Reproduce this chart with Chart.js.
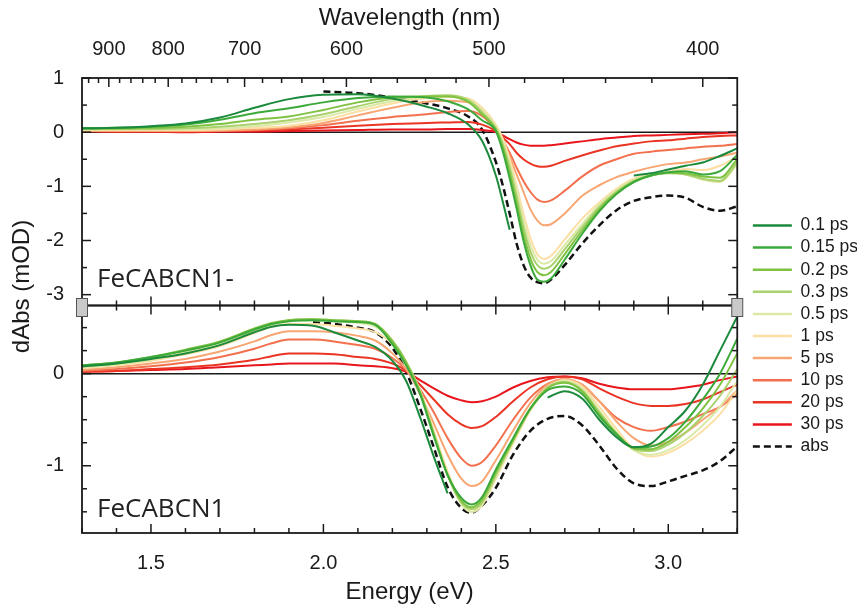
<!DOCTYPE html>
<html><head><meta charset="utf-8">
<script src="https://cdn.jsdelivr.net/npm/chart.js@4.4.1/dist/chart.umd.min.js"></script>
<style>html,body{margin:0;padding:0;background:#fff;}canvas{display:block;}</style>
</head><body>
<canvas id="c" width="857" height="604"></canvas>
<script>
// ---------- data ----------
const TOP_ENERGY = [1.30,1.40,1.50,1.60,1.70,1.80,1.90,2.00,2.10,2.20,2.30,2.36,2.42,2.46,2.50,2.52,2.54,2.56,2.58,2.60,2.62,2.64,2.66,2.70,2.75,2.80,2.85,2.90,2.95,3.00,3.05,3.10,3.15,3.20];
const TOP_0_1PS  = [0.07,0.08,0.11,0.16,0.27,0.45,0.61,0.69,0.70,0.62,0.47,0.35,0.14,-0.16,-0.80,-1.28,-1.80,null,null,null,null,null,null,null,null,null,null,-0.80,-0.76,-0.69,-0.62,-0.56,-0.44,-0.30];
const TOP_0_15PS = [0.07,0.08,0.10,0.14,0.23,0.35,0.44,0.55,0.63,0.66,0.64,0.57,0.42,0.22,0.02,-0.35,-0.85,-1.40,-2.00,-2.45,-2.72,-2.76,-2.70,-2.35,-1.88,-1.46,-1.14,-0.92,-0.80,-0.74,-0.72,-0.78,-0.72,-0.42];
const TOP_0_2PS  = [0.07,0.07,0.08,0.10,0.15,0.23,0.29,0.41,0.55,0.64,0.66,0.66,0.56,0.33,0.05,-0.28,-0.75,-1.30,-1.88,-2.33,-2.58,-2.64,-2.58,-2.25,-1.82,-1.42,-1.12,-0.92,-0.80,-0.75,-0.76,-0.82,-0.84,-0.50];
const TOP_0_3PS  = [0.06,0.06,0.06,0.07,0.10,0.15,0.22,0.33,0.48,0.61,0.67,0.68,0.59,0.37,0.07,-0.22,-0.65,-1.18,-1.75,-2.20,-2.45,-2.52,-2.47,-2.16,-1.76,-1.38,-1.10,-0.90,-0.80,-0.76,-0.78,-0.86,-0.90,-0.56];
const TOP_0_5PS  = [0.05,0.05,0.05,0.05,0.07,0.11,0.18,0.28,0.43,0.57,0.65,0.67,0.61,0.41,0.10,-0.18,-0.58,-1.08,-1.62,-2.08,-2.35,-2.43,-2.38,-2.08,-1.70,-1.34,-1.07,-0.88,-0.78,-0.75,-0.78,-0.88,-0.92,-0.60];
const TOP_1PS    = [0.04,0.04,0.04,0.04,0.05,0.08,0.12,0.22,0.38,0.53,0.63,0.65,0.62,0.45,0.14,-0.12,-0.50,-0.98,-1.50,-1.95,-2.25,-2.34,-2.28,-1.98,-1.60,-1.30,-1.04,-0.86,-0.78,-0.73,-0.68,-0.70,-0.62,-0.45];
const TOP_5PS    = [0.02,0.02,0.02,0.02,0.03,0.05,0.09,0.17,0.31,0.45,0.56,0.58,0.55,0.38,0.05,-0.18,-0.45,-0.78,-1.10,-1.42,-1.63,-1.72,-1.70,-1.50,-1.18,-0.98,-0.83,-0.73,-0.65,-0.59,-0.56,-0.50,-0.45,-0.38];
const TOP_10PS   = [0.02,0.02,0.02,0.02,0.02,0.04,0.07,0.13,0.21,0.28,0.33,0.37,0.39,0.30,0.05,-0.15,-0.38,-0.65,-0.90,-1.10,-1.24,-1.29,-1.26,-1.08,-0.82,-0.62,-0.50,-0.40,-0.36,-0.33,-0.30,-0.27,-0.25,-0.22];
const TOP_20PS   = [0.02,0.01,0.01,0.01,0.02,0.03,0.05,0.08,0.12,0.15,0.17,0.18,0.19,0.14,0.02,-0.10,-0.22,-0.38,-0.50,-0.58,-0.63,-0.64,-0.62,-0.53,-0.43,-0.34,-0.26,-0.21,-0.17,-0.15,-0.12,-0.09,-0.07,-0.06];
const TOP_30PS   = [0.02,0.01,0.01,0.00,0.01,0.01,0.02,0.03,0.04,0.05,0.05,0.06,0.06,0.04,0.00,-0.06,-0.13,-0.19,-0.23,-0.25,-0.25,-0.25,-0.24,-0.21,-0.17,-0.13,-0.10,-0.07,-0.06,-0.05,-0.04,-0.03,-0.02,0.00];
const TOP_ABS    = [null,null,null,null,null,null,null,0.75,0.72,0.64,0.53,0.44,0.29,0.05,-0.55,-0.98,-1.50,-2.05,-2.45,-2.68,-2.77,-2.79,-2.72,-2.45,-2.06,-1.72,-1.44,-1.27,-1.20,-1.17,-1.21,-1.38,-1.45,-1.37];

const BOTTOM_ENERGY = [1.30,1.40,1.50,1.60,1.70,1.80,1.85,1.90,1.97,2.03,2.10,2.15,2.20,2.24,2.28,2.32,2.36,2.40,2.43,2.46,2.50,2.55,2.60,2.65,2.70,2.75,2.80,2.85,2.90,2.95,3.00,3.05,3.10,3.15,3.20];
const BOT_0_1PS  = [0.08,0.11,0.16,0.22,0.31,0.45,0.51,0.53,0.52,0.45,0.36,0.29,0.14,-0.08,-0.47,-0.90,-1.30,null,null,null,null,null,null,-0.26,-0.19,-0.27,-0.50,-0.69,-0.80,-0.76,-0.58,-0.40,-0.12,0.25,0.62];
const BOT_0_15PS = [0.09,0.12,0.18,0.25,0.34,0.48,0.54,0.57,0.58,0.57,0.56,0.53,0.32,0.09,-0.22,-0.68,-1.10,-1.35,-1.42,-1.34,-1.04,-0.70,-0.38,-0.18,-0.14,-0.22,-0.46,-0.66,-0.80,-0.79,-0.70,-0.52,-0.28,0.00,0.38];
const BOT_0_2PS  = [0.09,0.12,0.18,0.26,0.35,0.49,0.55,0.58,0.59,0.58,0.57,0.54,0.35,0.12,-0.20,-0.66,-1.10,-1.38,-1.45,-1.37,-1.07,-0.72,-0.38,-0.16,-0.10,-0.19,-0.44,-0.65,-0.81,-0.82,-0.74,-0.58,-0.38,-0.12,0.22];
const BOT_0_3PS  = [0.08,0.11,0.17,0.25,0.34,0.48,0.54,0.58,0.59,0.58,0.57,0.54,0.36,0.13,-0.19,-0.65,-1.10,-1.40,-1.47,-1.40,-1.10,-0.73,-0.38,-0.15,-0.09,-0.18,-0.42,-0.65,-0.82,-0.84,-0.77,-0.64,-0.46,-0.24,0.05];
const BOT_0_5PS  = [0.07,0.10,0.15,0.23,0.32,0.46,0.53,0.57,0.58,0.57,0.55,0.51,0.35,0.13,-0.19,-0.64,-1.10,-1.42,-1.50,-1.42,-1.12,-0.74,-0.38,-0.15,-0.08,-0.16,-0.40,-0.64,-0.83,-0.88,-0.83,-0.72,-0.56,-0.36,-0.08];
const BOT_1PS    = [0.06,0.09,0.14,0.21,0.30,0.44,0.51,0.54,0.54,0.52,0.49,0.45,0.32,0.12,-0.18,-0.62,-1.06,-1.40,-1.50,-1.43,-1.14,-0.76,-0.40,-0.16,-0.07,-0.14,-0.36,-0.60,-0.82,-0.90,-0.86,-0.76,-0.62,-0.44,-0.18];
const BOT_5PS    = [0.04,0.07,0.11,0.16,0.24,0.35,0.42,0.46,0.46,0.45,0.41,0.36,0.22,0.05,-0.22,-0.54,-0.88,-1.14,-1.22,-1.17,-0.94,-0.62,-0.32,-0.12,-0.06,-0.12,-0.30,-0.52,-0.70,-0.78,-0.74,-0.64,-0.50,-0.36,-0.18];
const BOT_10PS   = [0.03,0.05,0.08,0.12,0.18,0.27,0.33,0.37,0.37,0.35,0.31,0.27,0.17,0.04,-0.17,-0.42,-0.70,-0.92,-1.00,-0.96,-0.78,-0.50,-0.26,-0.11,-0.06,-0.12,-0.30,-0.48,-0.58,-0.62,-0.58,-0.52,-0.44,-0.36,-0.22];
const BOT_20PS   = [0.02,0.03,0.05,0.07,0.10,0.15,0.19,0.22,0.22,0.21,0.18,0.16,0.11,0.03,-0.12,-0.28,-0.44,-0.55,-0.59,-0.57,-0.47,-0.30,-0.15,-0.06,-0.03,-0.06,-0.16,-0.25,-0.32,-0.35,-0.35,-0.33,-0.28,-0.20,-0.12];
const BOT_30PS   = [0.02,0.03,0.04,0.05,0.07,0.09,0.10,0.11,0.11,0.11,0.09,0.08,0.06,0.02,-0.07,-0.16,-0.24,-0.29,-0.31,-0.30,-0.25,-0.15,-0.08,-0.04,-0.03,-0.05,-0.11,-0.15,-0.17,-0.17,-0.17,-0.15,-0.12,-0.07,-0.03];
const BOT_ABS    = [null,null,null,null,null,null,null,null,0.56,0.54,0.50,0.45,0.28,0.02,-0.37,-0.80,-1.23,-1.46,-1.51,-1.43,-1.24,-0.88,-0.62,-0.49,-0.46,-0.56,-0.78,-1.03,-1.19,-1.22,-1.17,-1.11,-1.05,-0.95,-0.79];

const SERIES_LABELS = ['0.1 ps','0.15 ps','0.2 ps','0.3 ps','0.5 ps','1 ps','5 ps','10 ps','20 ps','30 ps','abs'];
const TOP_SERIES = [TOP_0_1PS,TOP_0_15PS,TOP_0_2PS,TOP_0_3PS,TOP_0_5PS,TOP_1PS,TOP_5PS,TOP_10PS,TOP_20PS,TOP_30PS,TOP_ABS];
const BOTTOM_SERIES = [BOT_0_1PS,BOT_0_15PS,BOT_0_2PS,BOT_0_3PS,BOT_0_5PS,BOT_1PS,BOT_5PS,BOT_10PS,BOT_20PS,BOT_30PS,BOT_ABS];
const PANEL_NAMES = ['FeCABCN1-','FeCABCN1'];

const ENERGY_TICK_LABELS = [1.5, 2.0, 2.5, 3.0];
const WAVELENGTH_TICK_LABELS = [900, 800, 700, 600, 500, 400];
const TOP_Y_TICK_LABELS = [1, 0, -1, -2, -3];
const BOTTOM_Y_TICK_LABELS = [0, -1];

// ---------- styles ----------
const SERIES_COLORS = ['#1b8a3c','#3caa3a','#7fc241','#a9d26e','#dce9a6','#fbdfa4','#f7a673','#f2704e','#ea3424','#e8161c','#111111'];
const FONT = "'Liberation Sans', Arial, sans-serif";
const INK = '#1a1a1a';

// ---------- tick position helpers ----------
function range(a, b, step) { const out = []; const n = Math.round((b - a) / step); for (let i = 0; i <= n; i++) out.push(Math.round((a + i * step) * 1000) / 1000); return out; }
const ENERGY_TICKS = range(1.3, 3.2, 0.1);
const WAVELENGTH_TICKS = range(400, 940, 20).map(nm => 1240 / nm);
const TOP_Y_TICKS = range(-3, 1, 0.5);
const BOTTOM_Y_TICKS = range(-1.5, 0.5, 0.25);
const near = (arr, v) => arr.some(t => Math.abs(t - v) < 1e-6);

function makeSets(energy, series, axisId) {
  return series.map((vals, i) => ({
    label: SERIES_LABELS[i],
    data: energy.map((e, k) => ({ x: e, y: vals[k] })),
    yAxisID: axisId,
    borderColor: SERIES_COLORS[i],
    backgroundColor: SERIES_COLORS[i],
    borderWidth: i === 10 ? 2.5 : 2,
    borderDash: i === 10 ? [7, 4] : [],
    pointRadius: 0,
    cubicInterpolationMode: 'monotone',
    spanGaps: false
  }));
}
const datasets = makeSets(TOP_ENERGY, TOP_SERIES, 'yTop').concat(makeSets(BOTTOM_ENERGY, BOTTOM_SERIES, 'yBot'));

const decor = {
  id: 'decor',
  afterLayout(chart) {
    const lg = chart.legend;
    if (lg) { lg.left += 11; lg.right += 11; lg.top += 34; lg.bottom += 34; }
  },
  beforeDatasetsDraw(chart) {
    const { ctx, chartArea: a, scales } = chart;
    ctx.save();
    ctx.strokeStyle = INK; ctx.lineWidth = 1.5;
    for (const id of ['yTop', 'yBot']) {
      const y = scales[id].getPixelForValue(0);
      ctx.beginPath(); ctx.moveTo(a.left, y); ctx.lineTo(a.right, y); ctx.stroke();
    }
    ctx.restore();
  },
  afterDatasetsDraw(chart) {
    const { ctx, chartArea: a, scales } = chart;
    const yT = scales.yTop, yB = scales.yBot, x = scales.x, x2 = scales.x2;
    ctx.save();
    ctx.strokeStyle = INK; ctx.lineWidth = 1.8;
    ctx.strokeRect(a.left, yT.top, a.right - a.left, yT.bottom - yT.top);
    ctx.strokeRect(a.left, yB.top, a.right - a.left, yB.bottom - yB.top);
    ctx.lineWidth = 1.5;
    const seg = (x0, y0, x1, y1) => { ctx.beginPath(); ctx.moveTo(x0, y0); ctx.lineTo(x1, y1); ctx.stroke(); };
    for (const s of [yT, yB]) {
      for (const t of s.ticks) {
        const py = s.getPixelForValue(t.value);
        const len = t.label !== '' ? 9 : 5;
        seg(a.left, py, a.left + len, py);
        seg(a.right, py, a.right - len, py);
      }
    }
    for (const t of x.ticks) {
      const px = x.getPixelForValue(t.value);
      const len = t.label !== '' ? 9 : 5;
      seg(px, yB.bottom, px, yB.bottom - len);
      seg(px, yT.bottom - len, px, yB.top + len);
    }
    for (const t of x2.ticks) {
      const px = x2.getPixelForValue(t.value);
      const len = t.label !== '' ? 9 : 5;
      seg(px, yT.top, px, yT.top + len);
    }
    // axis-break markers
    ctx.fillStyle = '#c9c9c9'; ctx.strokeStyle = '#555'; ctx.lineWidth = 1;
    for (const px of [a.left, a.right]) {
      ctx.fillRect(px - 5.5, yT.bottom - 7, 11, 18);
      ctx.strokeRect(px - 5.5, yT.bottom - 7, 11, 18);
    }
    // panel names
    ctx.fillStyle = '#222';
    ctx.font = "26px 'Open Sans', 'Noto Sans', sans-serif";
    ctx.textAlign = 'left'; ctx.textBaseline = 'alphabetic';
    ctx.fillText(PANEL_NAMES[0], a.left + 15, yT.bottom - 19);
    ctx.fillText(PANEL_NAMES[1], a.left + 15, yB.bottom - 16);
    // y title
    ctx.fillStyle = INK;
    ctx.font = '24px ' + FONT;
    ctx.translate(22, (a.top + a.bottom) / 2 - 19);
    ctx.rotate(-Math.PI / 2);
    ctx.textAlign = 'center'; ctx.textBaseline = 'middle';
    ctx.fillText('dAbs (mOD)', 0, 0);
    ctx.restore();
  }
};

const tickFont = { family: FONT, size: 20 };
const titleFont = { family: FONT, size: 24, lineHeight: 1 };

new Chart(document.getElementById('c'), {
  type: 'line',
  data: { datasets },
  plugins: [decor],
  options: {
    responsive: false, animation: false, devicePixelRatio: 1,
    layout: { padding: 0 },
    plugins: {
      tooltip: { enabled: false },
      legend: {
        position: 'right', align: 'center', maxWidth: 120,
        labels: {
          generateLabels: (chart) => Chart.defaults.plugins.legend.labels.generateLabels(chart)
            .filter(item => item.datasetIndex < 11)
            .map(item => {
              const ds = chart.data.datasets[item.datasetIndex];
              item.lineDash = ds.borderDash;
              item.lineWidth = 2.5;
              item.strokeStyle = ds.borderColor;
              return item;
            }),
          usePointStyle: true, pointStyle: 'line', pointStyleWidth: 39,
          font: { family: FONT, size: 17.5 }, color: INK, padding: 4.6
        }
      }
    },
    scales: {
      x: {
        type: 'linear', position: 'bottom', min: 1.3, max: 3.2,
        afterBuildTicks: s => { s.ticks = ENERGY_TICKS.map(v => ({ value: v })); },
        afterFit: s => { s.height = 71; },
        grid: { display: false }, border: { display: false },
        ticks: { autoSkip: false, maxRotation: 0, minRotation: 0, padding: 10, font: tickFont, color: INK,
          callback: v => near(ENERGY_TICK_LABELS, v) ? v.toFixed(1) : '' },
        title: { display: true, text: 'Energy (eV)', font: titleFont, color: INK, padding: { top: 0, bottom: 0 } }
      },
      x2: {
        type: 'linear', axis: 'x', position: 'top', min: 1.3, max: 3.2,
        afterBuildTicks: s => { s.ticks = WAVELENGTH_TICKS.map(v => ({ value: v })); },
        afterFit: s => { s.height = 78; },
        grid: { display: false }, border: { display: false },
        ticks: { autoSkip: false, maxRotation: 0, minRotation: 0, padding: 9, font: tickFont, color: INK,
          callback: v => { const nm = Math.round(1240 / v); return WAVELENGTH_TICK_LABELS.includes(nm) ? String(nm) : ''; } },
        title: { display: true, text: 'Wavelength (nm)', font: titleFont, color: INK, padding: { top: 6, bottom: 0 } }
      },
      yBot: {
        type: 'linear', axis: 'y', position: 'left', stack: 'panels', stackWeight: 1,
        min: -1.73, max: 0.74,
        afterBuildTicks: s => { s.ticks = BOTTOM_Y_TICKS.map(v => ({ value: v })); },
        afterFit: s => { s.width = 82; },
        grid: { display: false }, border: { display: false },
        ticks: { autoSkip: false, padding: 10, font: tickFont, color: INK,
          callback: v => near(BOTTOM_Y_TICK_LABELS, v) ? String(Math.round(v)) : '' }
      },
      yTop: {
        type: 'linear', axis: 'y', position: 'left', stack: 'panels', stackWeight: 1,
        min: -3.2, max: 1,
        afterBuildTicks: s => { s.ticks = TOP_Y_TICKS.map(v => ({ value: v })); },
        afterFit: s => { s.width = 82; },
        grid: { display: false }, border: { display: false },
        ticks: { autoSkip: false, padding: 10, font: tickFont, color: INK,
          callback: v => near(TOP_Y_TICK_LABELS, v) ? String(Math.round(v)) : '' }
      }
    }
  }
});
</script>
</body></html>
